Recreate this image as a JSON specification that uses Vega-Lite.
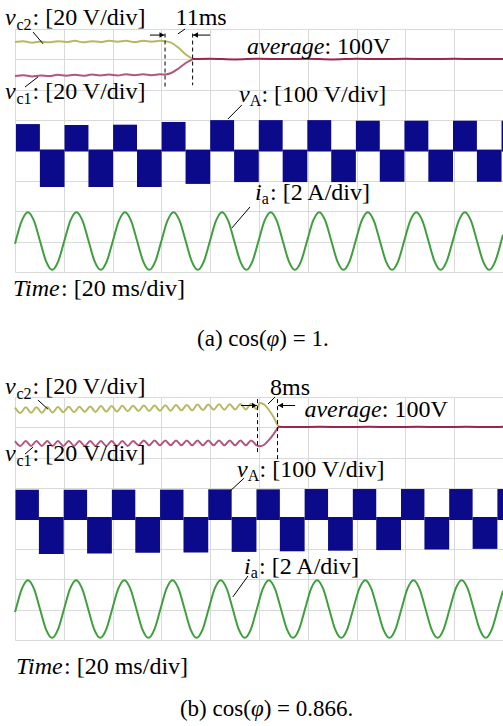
{
"$schema": "https://vega.github.io/schema/vega-lite/v6.json",
"padding": {"left": 4, "top": 6, "right": 0, "bottom": 4},
"config": {"view": {"stroke": null}},
"spacing": 125,
"bounds": "flush",
"datasets": {
"vc_a": [
{"s":"vc2","t":0,"v":7.57},{"s":"vc2","t":3.5,"v":7.60},{"s":"vc2","t":7,"v":7.55},{"s":"vc2","t":10.5,"v":7.59},{"s":"vc2","t":14,"v":7.56},{"s":"vc2","t":17.5,"v":7.60},{"s":"vc2","t":21,"v":7.57},{"s":"vc2","t":24.5,"v":7.61},{"s":"vc2","t":28,"v":7.56},{"s":"vc2","t":31.5,"v":7.60},{"s":"vc2","t":35,"v":7.57},{"s":"vc2","t":38.5,"v":7.61},{"s":"vc2","t":42,"v":7.58},{"s":"vc2","t":45.5,"v":7.61},{"s":"vc2","t":49,"v":7.57},{"s":"vc2","t":52.5,"v":7.61},{"s":"vc2","t":56,"v":7.58},{"s":"vc2","t":59.5,"v":7.61},{"s":"vc2","t":61.5,"v":7.60},{"s":"vc2","t":64,"v":7.55},{"s":"vc2","t":67,"v":7.38},{"s":"vc2","t":70,"v":7.16},{"s":"vc2","t":72.7,"v":7.02},
{"s":"vc1","t":0,"v":6.45},{"s":"vc1","t":3.5,"v":6.48},{"s":"vc1","t":7,"v":6.44},{"s":"vc1","t":10.5,"v":6.47},{"s":"vc1","t":14,"v":6.45},{"s":"vc1","t":17.5,"v":6.49},{"s":"vc1","t":21,"v":6.46},{"s":"vc1","t":24.5,"v":6.49},{"s":"vc1","t":28,"v":6.46},{"s":"vc1","t":31.5,"v":6.50},{"s":"vc1","t":35,"v":6.47},{"s":"vc1","t":38.5,"v":6.50},{"s":"vc1","t":42,"v":6.47},{"s":"vc1","t":45.5,"v":6.51},{"s":"vc1","t":49,"v":6.48},{"s":"vc1","t":52.5,"v":6.51},{"s":"vc1","t":56,"v":6.48},{"s":"vc1","t":59.5,"v":6.51},{"s":"vc1","t":61.5,"v":6.50},{"s":"vc1","t":64,"v":6.55},{"s":"vc1","t":67,"v":6.70},{"s":"vc1","t":70,"v":6.88},{"s":"vc1","t":72.7,"v":6.99},
{"s":"avg","t":72.7,"v":7.01},{"s":"avg","t":80,"v":7.02},{"s":"avg","t":90,"v":7.00},{"s":"avg","t":100,"v":7.02},{"s":"avg","t":110,"v":7.01},{"s":"avg","t":120,"v":7.02},{"s":"avg","t":130,"v":7.00},{"s":"avg","t":140,"v":7.02},{"s":"avg","t":150,"v":7.01},{"s":"avg","t":160,"v":7.02},{"s":"avg","t":170,"v":7.01},{"s":"avg","t":180,"v":7.02},{"s":"avg","t":190,"v":7.01},{"s":"avg","t":200,"v":7.01}
],
"vc_b": [
{"s":"vc2","t":0,"v":7.65},{"s":"vc2","t":2.2,"v":7.47},{"s":"vc2","t":4.4,"v":7.66},{"s":"vc2","t":6.6,"v":7.48},{"s":"vc2","t":8.8,"v":7.66},{"s":"vc2","t":11,"v":7.48},{"s":"vc2","t":13.2,"v":7.67},{"s":"vc2","t":15.4,"v":7.49},{"s":"vc2","t":17.6,"v":7.67},{"s":"vc2","t":19.8,"v":7.50},{"s":"vc2","t":22,"v":7.68},{"s":"vc2","t":24.2,"v":7.50},{"s":"vc2","t":26.4,"v":7.68},{"s":"vc2","t":28.6,"v":7.51},{"s":"vc2","t":30.8,"v":7.69},{"s":"vc2","t":33,"v":7.51},{"s":"vc2","t":35.2,"v":7.70},{"s":"vc2","t":37.4,"v":7.52},{"s":"vc2","t":39.6,"v":7.70},{"s":"vc2","t":41.8,"v":7.52},{"s":"vc2","t":44,"v":7.71},{"s":"vc2","t":46.2,"v":7.53},{"s":"vc2","t":48.4,"v":7.71},{"s":"vc2","t":50.6,"v":7.54},{"s":"vc2","t":52.8,"v":7.72},{"s":"vc2","t":55,"v":7.54},{"s":"vc2","t":57.2,"v":7.72},{"s":"vc2","t":59.4,"v":7.55},{"s":"vc2","t":61.6,"v":7.73},{"s":"vc2","t":63.8,"v":7.55},{"s":"vc2","t":66,"v":7.74},{"s":"vc2","t":68.2,"v":7.56},{"s":"vc2","t":70.4,"v":7.74},{"s":"vc2","t":72.6,"v":7.56},{"s":"vc2","t":74.8,"v":7.75},{"s":"vc2","t":77,"v":7.57},{"s":"vc2","t":79.2,"v":7.75},{"s":"vc2","t":81.4,"v":7.58},{"s":"vc2","t":83.6,"v":7.76},{"s":"vc2","t":85.8,"v":7.58},{"s":"vc2","t":88,"v":7.76},{"s":"vc2","t":90.2,"v":7.59},{"s":"vc2","t":92.4,"v":7.77},{"s":"vc2","t":94.6,"v":7.59},{"s":"vc2","t":96.8,"v":7.78},{"s":"vc2","t":99,"v":7.60},{"s":"vc2","t":100.3,"v":7.80},{"s":"vc2","t":102,"v":7.76},{"s":"vc2","t":104,"v":7.58},{"s":"vc2","t":106,"v":7.33},{"s":"vc2","t":107.8,"v":7.04},
{"s":"vc1","t":0,"v":6.55},{"s":"vc1","t":2.2,"v":6.39},{"s":"vc1","t":4.4,"v":6.55},{"s":"vc1","t":6.6,"v":6.39},{"s":"vc1","t":8.8,"v":6.55},{"s":"vc1","t":11,"v":6.39},{"s":"vc1","t":13.2,"v":6.55},{"s":"vc1","t":15.4,"v":6.39},{"s":"vc1","t":17.6,"v":6.55},{"s":"vc1","t":19.8,"v":6.39},{"s":"vc1","t":22,"v":6.55},{"s":"vc1","t":24.2,"v":6.39},{"s":"vc1","t":26.4,"v":6.55},{"s":"vc1","t":28.6,"v":6.39},{"s":"vc1","t":30.8,"v":6.55},{"s":"vc1","t":33,"v":6.39},{"s":"vc1","t":35.2,"v":6.55},{"s":"vc1","t":37.4,"v":6.39},{"s":"vc1","t":39.6,"v":6.55},{"s":"vc1","t":41.8,"v":6.39},{"s":"vc1","t":44,"v":6.55},{"s":"vc1","t":46.2,"v":6.39},{"s":"vc1","t":48.4,"v":6.55},{"s":"vc1","t":50.6,"v":6.41},{"s":"vc1","t":52.8,"v":6.57},{"s":"vc1","t":55,"v":6.41},{"s":"vc1","t":57.2,"v":6.57},{"s":"vc1","t":59.4,"v":6.41},{"s":"vc1","t":61.6,"v":6.57},{"s":"vc1","t":63.8,"v":6.41},{"s":"vc1","t":66,"v":6.57},{"s":"vc1","t":68.2,"v":6.41},{"s":"vc1","t":70.4,"v":6.57},{"s":"vc1","t":72.6,"v":6.41},{"s":"vc1","t":74.8,"v":6.57},{"s":"vc1","t":77,"v":6.41},{"s":"vc1","t":79.2,"v":6.57},{"s":"vc1","t":81.4,"v":6.41},{"s":"vc1","t":83.6,"v":6.57},{"s":"vc1","t":85.8,"v":6.41},{"s":"vc1","t":88,"v":6.57},{"s":"vc1","t":90.2,"v":6.41},{"s":"vc1","t":92.4,"v":6.57},{"s":"vc1","t":94.6,"v":6.41},{"s":"vc1","t":96.8,"v":6.57},{"s":"vc1","t":99,"v":6.41},{"s":"vc1","t":100.3,"v":6.38},{"s":"vc1","t":102,"v":6.42},{"s":"vc1","t":104,"v":6.58},{"s":"vc1","t":106,"v":6.78},{"s":"vc1","t":107.8,"v":7.00},
{"s":"avg","t":107.8,"v":7.02},{"s":"avg","t":115,"v":7.01},{"s":"avg","t":125,"v":7.02},{"s":"avg","t":135,"v":7.01},{"s":"avg","t":145,"v":7.02},{"s":"avg","t":155,"v":7.01},{"s":"avg","t":165,"v":7.02},{"s":"avg","t":175,"v":7.01},{"s":"avg","t":185,"v":7.02},{"s":"avg","t":195,"v":7.01},{"s":"avg","t":200,"v":7.02}
],
"ia_a": [
{"t":0,"v":0.93},{"t":0.3,"v":1.02},{"t":2.79,"v":1.69},{"t":5.28,"v":1.97},{"t":7.76,"v":1.69},{"t":10.25,"v":1.02},{"t":12.74,"v":0.35},{"t":15.23,"v":0.07},{"t":17.71,"v":0.35},
{"t":20.2,"v":1.02},{"t":22.69,"v":1.69},{"t":25.18,"v":1.97},{"t":27.66,"v":1.69},{"t":30.15,"v":1.02},{"t":32.64,"v":0.35},{"t":35.13,"v":0.07},{"t":37.61,"v":0.35},
{"t":40.1,"v":1.02},{"t":42.59,"v":1.69},{"t":45.08,"v":1.97},{"t":47.56,"v":1.69},{"t":50.05,"v":1.02},{"t":52.54,"v":0.35},{"t":55.03,"v":0.07},{"t":57.51,"v":0.35},
{"t":60.0,"v":1.02},{"t":62.49,"v":1.69},{"t":64.98,"v":1.97},{"t":67.46,"v":1.69},{"t":69.95,"v":1.02},{"t":72.44,"v":0.35},{"t":74.93,"v":0.07},{"t":77.41,"v":0.35},
{"t":79.9,"v":1.02},{"t":82.39,"v":1.69},{"t":84.88,"v":1.97},{"t":87.36,"v":1.69},{"t":89.85,"v":1.02},{"t":92.34,"v":0.35},{"t":94.83,"v":0.07},{"t":97.31,"v":0.35},
{"t":99.8,"v":1.02},{"t":102.29,"v":1.69},{"t":104.78,"v":1.97},{"t":107.26,"v":1.69},{"t":109.75,"v":1.02},{"t":112.24,"v":0.35},{"t":114.73,"v":0.07},{"t":117.21,"v":0.35},
{"t":119.7,"v":1.02},{"t":122.19,"v":1.69},{"t":124.68,"v":1.97},{"t":127.16,"v":1.69},{"t":129.65,"v":1.02},{"t":132.14,"v":0.35},{"t":134.63,"v":0.07},{"t":137.11,"v":0.35},
{"t":139.6,"v":1.02},{"t":142.09,"v":1.69},{"t":144.58,"v":1.97},{"t":147.06,"v":1.69},{"t":149.55,"v":1.02},{"t":152.04,"v":0.35},{"t":154.53,"v":0.07},{"t":157.01,"v":0.35},
{"t":159.5,"v":1.02},{"t":161.99,"v":1.69},{"t":164.48,"v":1.97},{"t":166.96,"v":1.69},{"t":169.45,"v":1.02},{"t":171.94,"v":0.35},{"t":174.43,"v":0.07},{"t":176.91,"v":0.35},
{"t":179.4,"v":1.02},{"t":181.89,"v":1.69},{"t":184.38,"v":1.97},{"t":186.86,"v":1.69},{"t":189.35,"v":1.02},{"t":191.84,"v":0.35},{"t":194.33,"v":0.07},{"t":196.81,"v":0.35},
{"t":199.3,"v":1.02},{"t":200,"v":1.23}
],
"ia_b": [
{"t":0,"v":0.92},{"t":0.36,"v":1.02},{"t":2.83,"v":1.69},{"t":5.3,"v":1.97},{"t":7.77,"v":1.69},{"t":10.24,"v":1.02},{"t":12.71,"v":0.35},{"t":15.17,"v":0.07},{"t":17.64,"v":0.35},
{"t":20.11,"v":1.02},{"t":22.58,"v":1.69},{"t":25.05,"v":1.97},{"t":27.52,"v":1.69},{"t":29.99,"v":1.02},{"t":32.46,"v":0.35},{"t":34.93,"v":0.07},{"t":37.4,"v":0.35},
{"t":39.86,"v":1.02},{"t":42.33,"v":1.69},{"t":44.8,"v":1.97},{"t":47.27,"v":1.69},{"t":49.74,"v":1.02},{"t":52.21,"v":0.35},{"t":54.68,"v":0.07},{"t":57.15,"v":0.35},
{"t":59.62,"v":1.02},{"t":62.09,"v":1.69},{"t":64.55,"v":1.97},{"t":67.02,"v":1.69},{"t":69.49,"v":1.02},{"t":71.96,"v":0.35},{"t":74.43,"v":0.07},{"t":76.9,"v":0.35},
{"t":79.37,"v":1.02},{"t":81.84,"v":1.69},{"t":84.31,"v":1.97},{"t":86.78,"v":1.69},{"t":89.24,"v":1.02},{"t":91.71,"v":0.35},{"t":94.18,"v":0.07},{"t":96.65,"v":0.35},
{"t":99.12,"v":1.02},{"t":101.59,"v":1.69},{"t":104.06,"v":1.97},{"t":106.53,"v":1.69},{"t":109.0,"v":1.02},{"t":111.47,"v":0.35},{"t":113.93,"v":0.07},{"t":116.4,"v":0.35},
{"t":118.87,"v":1.02},{"t":121.34,"v":1.69},{"t":123.81,"v":1.97},{"t":126.28,"v":1.69},{"t":128.75,"v":1.02},{"t":131.22,"v":0.35},{"t":133.69,"v":0.07},{"t":136.16,"v":0.35},
{"t":138.62,"v":1.02},{"t":141.09,"v":1.69},{"t":143.56,"v":1.97},{"t":146.03,"v":1.69},{"t":148.5,"v":1.02},{"t":150.97,"v":0.35},{"t":153.44,"v":0.07},{"t":155.91,"v":0.35},
{"t":158.38,"v":1.02},{"t":160.85,"v":1.69},{"t":163.31,"v":1.97},{"t":165.78,"v":1.69},{"t":168.25,"v":1.02},{"t":170.72,"v":0.35},{"t":173.19,"v":0.07},{"t":175.66,"v":0.35},
{"t":178.13,"v":1.02},{"t":180.6,"v":1.69},{"t":183.07,"v":1.97},{"t":185.54,"v":1.69},{"t":188.0,"v":1.02},{"t":190.47,"v":0.35},{"t":192.94,"v":0.07},{"t":195.41,"v":0.35},
{"t":197.88,"v":1.02},{"t":200,"v":1.62}
],
"va_a": [
{"t":0.4,"t2":10.2,"v":3.97,"v2":4.87},{"t":20.3,"t2":30.1,"v":3.97,"v2":4.84},{"t":40.2,"t2":50.0,"v":3.97,"v2":4.85},{"t":60.1,"t2":69.9,"v":3.97,"v2":4.94},{"t":80.0,"t2":89.8,"v":3.97,"v2":5.0},{"t":99.9,"t2":109.7,"v":3.97,"v2":5.0},{"t":119.8,"t2":129.6,"v":3.97,"v2":5.0},{"t":139.7,"t2":149.5,"v":3.97,"v2":4.98},{"t":159.6,"t2":169.4,"v":3.97,"v2":4.98},{"t":179.5,"t2":189.3,"v":3.97,"v2":4.98},{"t":199.4,"t2":200,"v":3.97,"v2":4.98},
{"t":10.2,"t2":20.3,"v":2.80,"v2":4.03},{"t":30.1,"t2":40.2,"v":2.80,"v2":4.03},{"t":50.0,"t2":60.1,"v":2.80,"v2":4.03},{"t":69.9,"t2":80.0,"v":2.90,"v2":4.03},{"t":89.8,"t2":99.9,"v":2.96,"v2":4.03},{"t":109.7,"t2":119.8,"v":2.96,"v2":4.03},{"t":129.6,"t2":139.7,"v":2.96,"v2":4.03},{"t":149.5,"t2":159.6,"v":2.97,"v2":4.03},{"t":169.4,"t2":179.5,"v":2.97,"v2":4.03},{"t":189.3,"t2":199.4,"v":2.97,"v2":4.03}
],
"va_b": [
{"t":0.2,"t2":9.8,"v":3.95,"v2":4.95},{"t":19.95,"t2":29.55,"v":3.95,"v2":4.95},{"t":39.7,"t2":49.3,"v":3.95,"v2":4.95},{"t":59.45,"t2":69.05,"v":3.95,"v2":4.95},{"t":79.2,"t2":88.8,"v":3.95,"v2":4.96},{"t":98.95,"t2":108.55,"v":3.95,"v2":4.96},{"t":118.7,"t2":128.3,"v":3.95,"v2":4.97},{"t":138.45,"t2":148.05,"v":3.95,"v2":4.97},{"t":158.2,"t2":167.8,"v":3.95,"v2":4.97},{"t":177.95,"t2":187.55,"v":3.95,"v2":4.97},{"t":197.7,"t2":200,"v":3.95,"v2":4.97},
{"t":9.8,"t2":19.95,"v":2.83,"v2":4.05},{"t":29.55,"t2":39.7,"v":2.85,"v2":4.05},{"t":49.3,"t2":59.45,"v":2.87,"v2":4.05},{"t":69.05,"t2":79.2,"v":2.88,"v2":4.05},{"t":88.8,"t2":98.95,"v":2.90,"v2":4.05},{"t":108.55,"t2":118.7,"v":2.92,"v2":4.05},{"t":128.3,"t2":138.45,"v":2.94,"v2":4.05},{"t":148.05,"t2":158.2,"v":2.96,"v2":4.05},{"t":167.8,"t2":177.95,"v":2.98,"v2":4.05},{"t":187.55,"t2":197.7,"v":3.0,"v2":4.05}
],
"dash": [
{"p":"a","t":61.5,"v":7.85,"v2":6.09},{"p":"a","t":72.8,"v":7.85,"v2":6.15},
{"p":"b","t":99.4,"v":7.93,"v2":6.12},{"p":"b","t":107.6,"v":7.93,"v2":5.86}
],
"lead": [
{"p":"a","t":7.4,"t2":11.5,"v":7.90,"v2":7.51},{"p":"a","t":4.1,"t2":9.4,"v":6.09,"v2":6.42},{"p":"a","t":66.8,"t2":69.7,"v":7.84,"v2":8.0},{"p":"a","t":87.3,"t2":93.0,"v":5.04,"v2":5.50},{"p":"a","t":88.9,"t2":96.3,"v":1.45,"v2":2.14},
{"p":"b","t":9.4,"t2":13.5,"v":7.90,"v2":7.60},{"p":"b","t":4.1,"t2":7.4,"v":6.12,"v2":6.35},{"p":"b","t":103.7,"t2":106.6,"v":7.77,"v2":8.0},{"p":"b","t":87.7,"t2":93.9,"v":4.87,"v2":5.33},{"p":"b","t":89.3,"t2":95.5,"v":1.42,"v2":2.11}
],
"arrow": [
{"p":"a","t":55.3,"t2":61.3,"v":7.80},{"p":"a","t":80.0,"t2":72.9,"v":7.80},
{"p":"b","t":92.6,"t2":99.2,"v":7.72},{"p":"b","t":114.8,"t2":107.8,"v":7.72}
],
"head": [
{"p":"a","t":60.2,"v":7.80,"dir":"r"},{"p":"a","t":74.0,"v":7.80,"dir":"l"},
{"p":"b","t":98.1,"v":7.72,"dir":"r"},{"p":"b","t":108.9,"v":7.72,"dir":"l"}
],
"txt": [
{"p":"a","part":"var","t":-4.1,"v":8.13,"s":"v"},
{"p":"a","part":"sub","t":0.6,"v":7.97,"s":"c2"},
{"p":"a","part":"txt","t":7.2,"v":8.13,"s":": [20 V/div]"},
{"p":"a","part":"txt","t":65.8,"v":8.13,"s":"11ms"},
{"p":"a","part":"var","t":95.1,"v":7.18,"s":"average"},
{"p":"a","part":"txt","t":126.8,"v":7.18,"s":": 100V"},
{"p":"a","part":"var","t":-4.1,"v":5.70,"s":"v"},
{"p":"a","part":"sub","t":0.6,"v":5.53,"s":"c1"},
{"p":"a","part":"txt","t":7.2,"v":5.70,"s":": [20 V/div]"},
{"p":"a","part":"var","t":91.8,"v":5.60,"s":"v"},
{"p":"a","part":"sub","t":96.2,"v":5.46,"s":"A"},
{"p":"a","part":"txt","t":101.0,"v":5.60,"s":": [100 V/div]"},
{"p":"a","part":"var","t":98.4,"v":2.37,"s":"i"},
{"p":"a","part":"sub","t":101.1,"v":2.24,"s":"a"},
{"p":"a","part":"txt","t":104.5,"v":2.37,"s":": [2 A/div]"},
{"p":"a","part":"var","t":-0.8,"v":-0.79,"s":"Time"},
{"p":"a","part":"txt","t":18.9,"v":-0.79,"s":": [20 ms/div]"},
{"p":"a","part":"cap","t":74.6,"v":-2.44,"s":"(a) cos("},
{"p":"a","part":"capvar","t":103.1,"v":-2.44,"s":"φ"},
{"p":"a","part":"cap","t":108.3,"v":-2.44,"s":") = 1."},
{"p":"b","part":"var","t":-4.1,"v":8.10,"s":"v"},
{"p":"b","part":"sub","t":0.6,"v":7.93,"s":"c2"},
{"p":"b","part":"txt","t":7.2,"v":8.10,"s":": [20 V/div]"},
{"p":"b","part":"txt","t":104.5,"v":8.07,"s":"8ms"},
{"p":"b","part":"var","t":118.6,"v":7.34,"s":"average"},
{"p":"b","part":"txt","t":150.3,"v":7.34,"s":": 100V"},
{"p":"b","part":"var","t":-4.1,"v":5.89,"s":"v"},
{"p":"b","part":"sub","t":0.6,"v":5.73,"s":"c1"},
{"p":"b","part":"txt","t":7.2,"v":5.89,"s":": [20 V/div]"},
{"p":"b","part":"var","t":91.0,"v":5.37,"s":"v"},
{"p":"b","part":"sub","t":95.4,"v":5.23,"s":"A"},
{"p":"b","part":"txt","t":100.2,"v":5.37,"s":": [100 V/div]"},
{"p":"b","part":"var","t":93.9,"v":2.17,"s":"i"},
{"p":"b","part":"sub","t":96.6,"v":2.04,"s":"a"},
{"p":"b","part":"txt","t":100.0,"v":2.17,"s":": [2 A/div]"},
{"p":"b","part":"var","t":0.4,"v":-1.12,"s":"Time"},
{"p":"b","part":"txt","t":20.1,"v":-1.12,"s":": [20 ms/div]"},
{"p":"b","part":"cap","t":67.6,"v":-2.50,"s":"(b) cos("},
{"p":"b","part":"capvar","t":96.7,"v":-2.50,"s":"φ"},
{"p":"b","part":"cap","t":101.9,"v":-2.50,"s":") = 0.866."}
]
},
"vconcat": [
{
"width": 488, "height": 243,
"encoding": {
"x": {"field":"t","type":"quantitative","scale":{"domain":[0,200],"nice":false,"zero":false},"axis":{"values":[0,20,40,60,80,100,120,140,160,180,200],"grid":true,"gridColor":"#d9d9d9","labels":false,"ticks":false,"domain":false,"title":null}},
"y": {"field":"v","type":"quantitative","scale":{"domain":[0,8],"nice":false,"zero":false},"axis":{"values":[0,1,2,3,4,5,6,7,8],"grid":true,"gridColor":"#d9d9d9","labels":false,"ticks":false,"domain":false,"title":null}}
},
"layer": [
{"data":{"name":"ia_a"},"mark":{"type":"line","color":"#3f9f3f","strokeWidth":2,"interpolate":"monotone"}},
{"data":{"name":"va_a"},"mark":{"type":"rect","color":"#0a0a8a"},"encoding":{"x2":{"field":"t2"},"y2":{"field":"v2"}}},
{"data":{"name":"vc_a"},"mark":{"type":"line","strokeWidth":2,"interpolate":"monotone"},"encoding":{"color":{"field":"s","type":"nominal","scale":{"domain":["vc2","vc1","avg"],"range":["#b8b864","#b0577f","#9c2451"]},"legend":null}}},
{"data":{"name":"dash"},"transform":[{"filter":"datum.p=='a'"}],"mark":{"type":"rule","color":"black","strokeWidth":1,"strokeDash":[4,3]},"encoding":{"y2":{"field":"v2"}}},
{"data":{"name":"lead"},"transform":[{"filter":"datum.p=='a'"}],"mark":{"type":"rule","color":"black","strokeWidth":1},"encoding":{"x2":{"field":"t2"},"y2":{"field":"v2"}}},
{"data":{"name":"arrow"},"transform":[{"filter":"datum.p=='a'"}],"mark":{"type":"rule","color":"black","strokeWidth":1},"encoding":{"x2":{"field":"t2"}}},
{"data":{"name":"head"},"transform":[{"filter":"datum.p=='a'"}],"mark":{"type":"point","filled":true,"color":"black","size":30,"opacity":1},"encoding":{"shape":{"field":"dir","type":"nominal","scale":{"domain":["r","l"],"range":["triangle-right","triangle-left"]},"legend":null}}},
{"data":{"name":"txt"},"transform":[{"filter":"datum.p=='a' && datum.part=='var'"}],"mark":{"type":"text","font":"Liberation Serif","fontStyle":"italic","fontSize":24,"align":"left","baseline":"alphabetic","color":"black"},"encoding":{"text":{"field":"s"}}},
{"data":{"name":"txt"},"transform":[{"filter":"datum.p=='a' && datum.part=='sub'"}],"mark":{"type":"text","font":"Liberation Serif","fontSize":16,"align":"left","baseline":"alphabetic","color":"black"},"encoding":{"text":{"field":"s"}}},
{"data":{"name":"txt"},"transform":[{"filter":"datum.p=='a' && datum.part=='txt'"}],"mark":{"type":"text","font":"Liberation Serif","fontSize":24,"align":"left","baseline":"alphabetic","color":"black"},"encoding":{"text":{"field":"s"}}},
{"data":{"name":"txt"},"transform":[{"filter":"datum.p=='a' && datum.part=='cap'"}],"mark":{"type":"text","font":"Liberation Serif","fontSize":23,"align":"left","baseline":"alphabetic","color":"black"},"encoding":{"text":{"field":"s"}}},
{"data":{"name":"txt"},"transform":[{"filter":"datum.p=='a' && datum.part=='capvar'"}],"mark":{"type":"text","font":"Liberation Serif","fontStyle":"italic","fontSize":23,"align":"left","baseline":"alphabetic","color":"black"},"encoding":{"text":{"field":"s"}}}
]
},
{
"width": 488, "height": 243,
"encoding": {
"x": {"field":"t","type":"quantitative","scale":{"domain":[0,200],"nice":false,"zero":false},"axis":{"values":[0,20,40,60,80,100,120,140,160,180,200],"grid":true,"gridColor":"#d9d9d9","labels":false,"ticks":false,"domain":false,"title":null}},
"y": {"field":"v","type":"quantitative","scale":{"domain":[0,8],"nice":false,"zero":false},"axis":{"values":[0,1,2,3,4,5,6,7,8],"grid":true,"gridColor":"#d9d9d9","labels":false,"ticks":false,"domain":false,"title":null}}
},
"layer": [
{"data":{"name":"ia_b"},"mark":{"type":"line","color":"#3f9f3f","strokeWidth":2,"interpolate":"monotone"}},
{"data":{"name":"va_b"},"mark":{"type":"rect","color":"#0a0a8a"},"encoding":{"x2":{"field":"t2"},"y2":{"field":"v2"}}},
{"data":{"name":"vc_b"},"mark":{"type":"line","strokeWidth":2,"interpolate":"monotone"},"encoding":{"color":{"field":"s","type":"nominal","scale":{"domain":["vc2","vc1","avg"],"range":["#b8b864","#b0577f","#9c2451"]},"legend":null}}},
{"data":{"name":"dash"},"transform":[{"filter":"datum.p=='b'"}],"mark":{"type":"rule","color":"black","strokeWidth":1,"strokeDash":[4,3]},"encoding":{"y2":{"field":"v2"}}},
{"data":{"name":"lead"},"transform":[{"filter":"datum.p=='b'"}],"mark":{"type":"rule","color":"black","strokeWidth":1},"encoding":{"x2":{"field":"t2"},"y2":{"field":"v2"}}},
{"data":{"name":"arrow"},"transform":[{"filter":"datum.p=='b'"}],"mark":{"type":"rule","color":"black","strokeWidth":1},"encoding":{"x2":{"field":"t2"}}},
{"data":{"name":"head"},"transform":[{"filter":"datum.p=='b'"}],"mark":{"type":"point","filled":true,"color":"black","size":30,"opacity":1},"encoding":{"shape":{"field":"dir","type":"nominal","scale":{"domain":["r","l"],"range":["triangle-right","triangle-left"]},"legend":null}}},
{"data":{"name":"txt"},"transform":[{"filter":"datum.p=='b' && datum.part=='var'"}],"mark":{"type":"text","font":"Liberation Serif","fontStyle":"italic","fontSize":24,"align":"left","baseline":"alphabetic","color":"black"},"encoding":{"text":{"field":"s"}}},
{"data":{"name":"txt"},"transform":[{"filter":"datum.p=='b' && datum.part=='sub'"}],"mark":{"type":"text","font":"Liberation Serif","fontSize":16,"align":"left","baseline":"alphabetic","color":"black"},"encoding":{"text":{"field":"s"}}},
{"data":{"name":"txt"},"transform":[{"filter":"datum.p=='b' && datum.part=='txt'"}],"mark":{"type":"text","font":"Liberation Serif","fontSize":24,"align":"left","baseline":"alphabetic","color":"black"},"encoding":{"text":{"field":"s"}}},
{"data":{"name":"txt"},"transform":[{"filter":"datum.p=='b' && datum.part=='cap'"}],"mark":{"type":"text","font":"Liberation Serif","fontSize":23,"align":"left","baseline":"alphabetic","color":"black"},"encoding":{"text":{"field":"s"}}},
{"data":{"name":"txt"},"transform":[{"filter":"datum.p=='b' && datum.part=='capvar'"}],"mark":{"type":"text","font":"Liberation Serif","fontStyle":"italic","fontSize":23,"align":"left","baseline":"alphabetic","color":"black"},"encoding":{"text":{"field":"s"}}}
]
}
]
}
